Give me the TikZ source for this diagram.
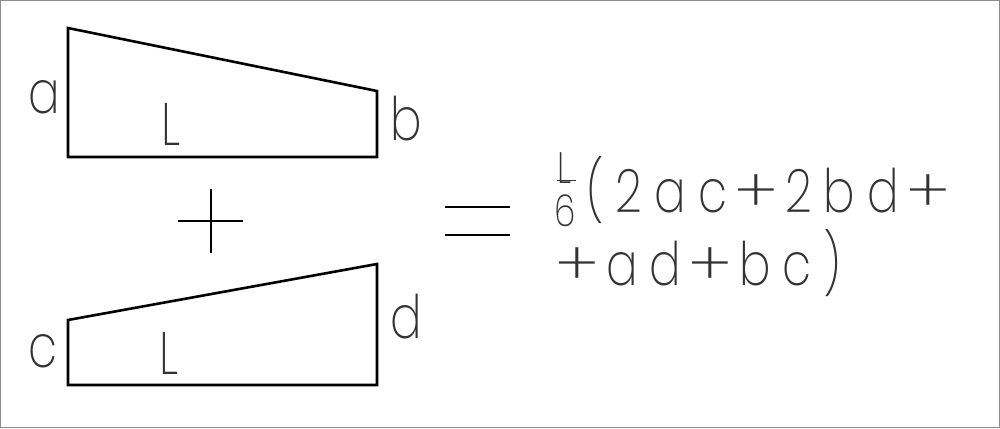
\documentclass[tikz,border=0pt]{standalone}
\usepackage{fontspec}
\IfFontExistsTF{Poppins ExtraLight}{\newfontfamily\cadfont{Poppins ExtraLight}[FakeStretch=0.78]}{%
  \IfFontExistsTF{Poppins Thin}{\newfontfamily\cadfont{Poppins Thin}[FakeStretch=0.78]}{\newfontfamily\cadfont{DejaVu Sans}}}
\newcommand\wideplus{\kern0.12em\scalebox{1.5}[1]{+}\kern0.12em}

\begin{document}
\begin{tikzpicture}[x=1pt,y=-1pt,
  lbl/.style={inner sep=0pt,anchor=base west,text=black!80,font=\cadfont\fontsize{60}{60}\selectfont},
  formula/.style={lbl,font=\cadfont\fontsize{60}{60}\selectfont\addfontfeature{LetterSpace=20}},
  fracpart/.style={inner sep=0pt,anchor=base west,text=black!80,font=\cadfont\fontsize{44}{44}\selectfont},
  edge/.style={line width=2.6pt,line join=miter}]
\draw[black!45,line width=1pt] (0.5,0.5) rectangle (999.5,427.5);
\useasboundingbox (0,0) rectangle (1000,428);
% upper beam
\draw[edge] (68,28) -- (377,91) -- (377,157) -- (68,157) -- cycle;
\node at (28,113) [lbl] (a) {a};
\node at (390,140) [lbl] (b) {b};
\node at (161,145) [lbl] (l1) {L};
% plus
\coordinate (pw) at (178,221);
\coordinate (pe) at (243,221);
\coordinate (pn) at (211,189);
\coordinate (ps) at (211,253);
\draw[line width=2.4pt] (pw) -- (pe);
\draw[line width=2.4pt] (pn) -- (ps);
% lower beam
\draw[edge] (68,320) -- (377,264) -- (377,385) -- (68,385) -- cycle;
\node at (28,367) [lbl] (c) {c};
\node at (390,338) [lbl] (d) {d};
\node at (159,374) [lbl] (l2) {L};
% equals
\coordinate (e1w) at (445,207);
\coordinate (e1e) at (510,207);
\coordinate (e2w) at (445,235);
\coordinate (e2e) at (510,235);
\draw[line width=2.2pt] (e1w) -- (e1e);
\draw[line width=2.2pt] (e2w) -- (e2e);
% result
\node at (557,183) [fracpart] (fl) {L};
\node at (554,226) [fracpart] (f6) {6};
\draw[black!80,line width=1pt] (fl.south west) ++(0,-3) coordinate (bw) -- (f6.north east |- bw) coordinate (be);
\node at (586,212) [formula] (r1) {(2ac\wideplus2bd\wideplus};
\node at (548,285) [formula] (r2) {\wideplus ad\wideplus bc)};
\end{tikzpicture}
\end{document}
